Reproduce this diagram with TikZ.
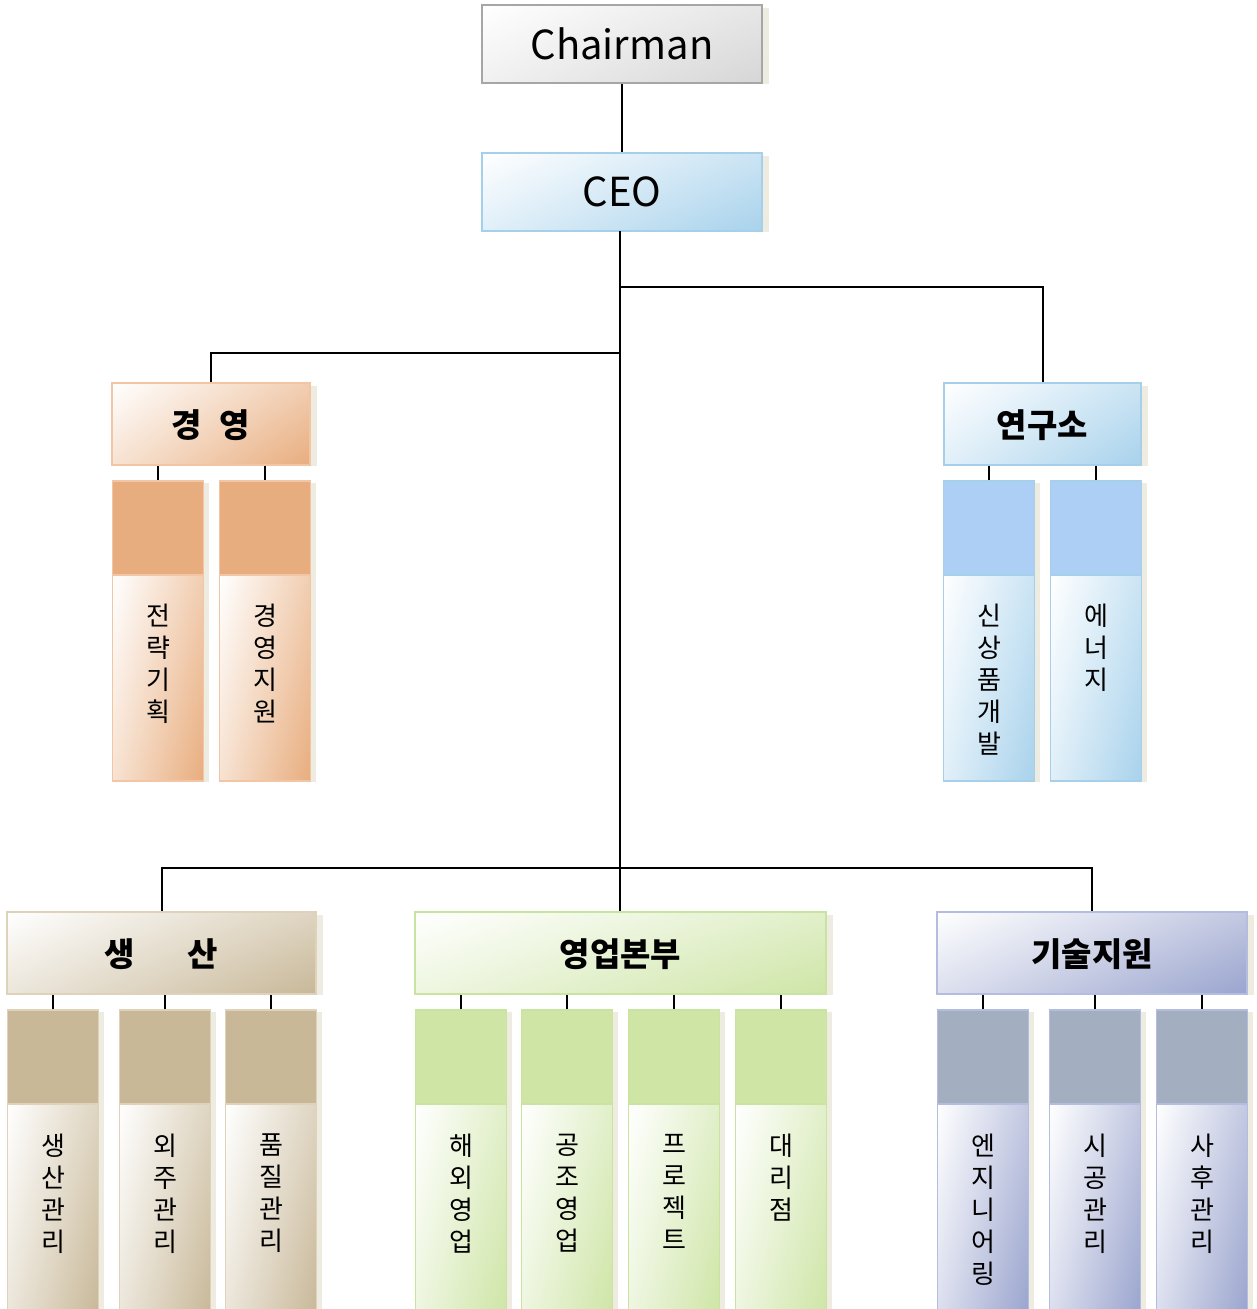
\documentclass[tikz,border=0pt]{standalone}
\usepackage{fontspec}
\usetikzlibrary{shadings}
\setmainfont{Noto Sans CJK KR}
\definecolor{grayD}{RGB}{214,214,214}
\definecolor{grayB}{RGB}{166,166,166}
\definecolor{blueD}{RGB}{168,210,236}
\definecolor{blueB}{RGB}{166,208,234}
\definecolor{blueT}{RGB}{173,206,245}
\definecolor{orD}{RGB}{232,173,126}
\definecolor{orB}{RGB}{242,198,164}
\definecolor{beD}{RGB}{200,184,152}
\definecolor{beB}{RGB}{222,210,186}
\definecolor{grD}{RGB}{206,229,166}
\definecolor{grB}{RGB}{200,228,160}
\definecolor{puD}{RGB}{154,164,206}
\definecolor{puB}{RGB}{180,188,224}
\definecolor{puT}{RGB}{163,174,192}
\definecolor{shd}{RGB}{238,235,225}
\tikzset{
  box/.style={rectangle, inner sep=0pt, line width=1.6pt},
  grad/.style={shade, upper left=white, lower right=#1, upper right=#1!60!white, lower left=#1!35!white},
  hbox/.style n args={3}{box, draw=#2, grad=#1, minimum width=#3, minimum height=82pt, font=\fontsize{33}{36}\selectfont\bfseries},
  sbtop/.style 2 args={box, draw=#2, fill=#1, minimum width=91pt, minimum height=94pt},
  sbbot/.style n args={3}{box, draw=#2, grad=#1, minimum width=91pt, minimum height=#3},
  vt/.style={inner sep=0pt, align=center, anchor=north, font=\fontsize{26}{32}\selectfont},
  ln/.style={line width=2pt, black},
}
\begin{document}
\begin{tikzpicture}[x=1pt,y=-1pt]
\useasboundingbox (0,0) rectangle (1257,1309);
% top
\node[box, draw=grayB, grad=grayD, minimum width=280pt, minimum height=78pt, font=\fontsize{40}{44}\selectfont] (ch) at (622,44) {Chairman};
\node[box, draw=blueB, grad=blueD, minimum width=280pt, minimum height=78pt, font=\fontsize{40}{44}\selectfont] (ceo) at (622,192) {CEO};
% headers
\node[hbox={orD}{orB}{198pt}, text depth=-3pt] (gy) at (211,424) {경\hspace{18pt}영};
\node[hbox={blueD}{blueB}{197pt}, text depth=-3pt] (yg) at (1042.5,424) {연구소};
\node[hbox={beD}{beB}{309pt}, text depth=-3pt] (ss) at (161.5,953) {생\hspace{53pt}산};
\node[hbox={grD}{grB}{411pt}, text depth=-3pt] (yb) at (620.5,953) {영업본부};
\node[hbox={puD}{puB}{310pt}, text depth=-3pt] (gs) at (1092,953) {기술지원};
% shadows
\foreach \n in {ch,ceo,gy,yg,ss,yb,gs}
  \fill[shd] ([yshift=-4pt]\n.north east) rectangle ([xshift=6pt]\n.south east);
% sub boxes upper
\foreach \nm/\cx/\ct/\cb/\cd/\txt in {
  gyA/158/orD/orB/orD/{전\\략\\기\\획},
  gyB/265/orD/orB/orD/{경\\영\\지\\원},
  ygA/989/blueT/blueB/blueD/{신\\상\\품\\개\\발},
  ygB/1096/blueT/blueB/blueD/{에\\너\\지}}{
  \node[sbtop={\ct}{\cb}] (\nm t) at (\cx,528) {};
  \node[sbbot={\cd}{\cb}{206pt}] (\nm) at (\cx,678) {};
  \fill[shd] ([yshift=-3pt]\nm t.north east) rectangle ([xshift=5pt]\nm.south east);
  \node[vt] (\nm x) at (\cx,604) {\txt};
}
% sub boxes lower
\foreach \nm/\cx/\ct/\cb/\cd/\txt in {
  ssA/53/beD/beB/beD/{생\\산\\관\\리},
  ssB/165/beD/beB/beD/{외\\주\\관\\리},
  ssC/271/beD/beB/beD/{품\\질\\관\\리},
  ybA/461/grD/grB/grD/{해\\외\\영\\업},
  ybB/567/grD/grB/grD/{공\\조\\영\\업},
  ybC/674/grD/grB/grD/{프\\로\\젝\\트},
  ybD/781/grD/grB/grD/{대\\리\\점},
  gsA/983/puT/puB/puD/{엔\\지\\니\\어\\링},
  gsB/1095/puT/puB/puD/{시\\공\\관\\리},
  gsC/1202/puT/puB/puD/{사\\후\\관\\리}}{
  \node[sbtop={\ct}{\cb}] (\nm t) at (\cx,1057) {};
  \node[sbbot={\cd}{\cb}{210pt}] (\nm) at (\cx,1209) {};
  \fill[shd] ([yshift=-3pt]\nm t.north east) rectangle ([xshift=5pt]\nm.south east);
  \node[vt] (\nm x) at (\cx,1134) {\txt};
}
% connectors
\coordinate (jt) at (620,231);
\coordinate (jr) at (620,287);
\coordinate (jl) at (620,353);
\coordinate (jb) at (620,868);
\draw[ln] (ch) -- (ceo);
\draw[ln] (jt) -- (jb) -- (jb |- yb.north);
\draw[ln] (jr) -| (yg.north);
\draw[ln] (jl) -| (gy.north);
\draw[ln] (ss.north) |- (jb) -| (gs.north);
\foreach \p/\c in {gy/gyA,gy/gyB,yg/ygA,yg/ygB,ss/ssA,ss/ssB,ss/ssC,yb/ybA,yb/ybB,yb/ybC,yb/ybD,gs/gsA,gs/gsB,gs/gsC}
  \draw[ln] (\c t.north) -- (\c t.north |- \p.south);
\end{tikzpicture}
\end{document}
